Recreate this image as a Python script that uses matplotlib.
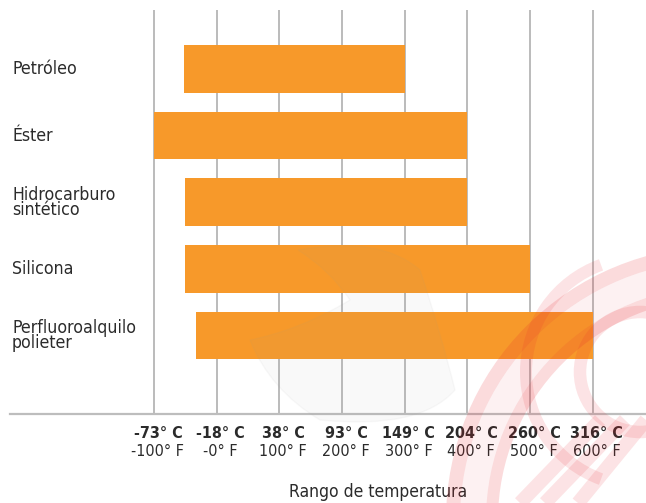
import matplotlib
matplotlib.use("Agg")
import matplotlib.pyplot as plt
from matplotlib.patches import Wedge, Circle, PathPatch
from matplotlib.path import Path
from matplotlib.transforms import blended_transform_factory

# ---- data -------------------------------------------------------------
categories = ["Petróleo", "Éster", "Hidrocarburo\nsintético", "Silicona",
              "Perfluoroalquilo\npolieter"]
range_min_f = [-52, -100, -50, -50, -33]
range_max_f = [300, 400, 400, 500, 600]

ticks_f = [-100, 0, 100, 200, 300, 400, 500, 600]
labels_c = ["-73° C", "-18° C", "38° C", "93° C", "149° C", "204° C", "260° C", "316° C"]
labels_f = ["-100° F", "-0° F", "100° F", "200° F", "300° F", "400° F", "500° F", "600° F"]
x_title = "Rango de temperatura"

# ---- style ------------------------------------------------------------
plt.rcParams["font.family"] = ["DejaVu Sans"]
plt.rcParams["font.stretch"] = "condensed"

BAR = "#f7992a"
TEXT = "#2b2b2b"
GRID = "#a8a8a8"

W, H = 646, 503
fig = plt.figure(figsize=(W / 100, H / 100), dpi=100)

# axes spans x 10..646 px, y 10..414 px
left, right, top, bottom = 10, 646, 10, 414
ax = fig.add_axes([left / W, 1 - bottom / H, (right - left) / W, (bottom - top) / H])

px_per_f = (592.7 - 154) / 700
ax.set_xlim(-100 - (154 - left) / px_per_f, 600 + (right - 592.7) / px_per_f)
ax.set_ylim(5.18, -0.886)

for t in ticks_f:
    ax.axvline(t, color=GRID, lw=1.1, zorder=1)

ypos = list(range(len(categories)))
widths = [b - a for a, b in zip(range_min_f, range_max_f)]
ax.barh(ypos, widths, left=range_min_f, height=0.717, color=BAR, zorder=2)

for s in ["top", "right", "left"]:
    ax.spines[s].set_visible(False)
ax.spines["bottom"].set_color("#bdbdbd")
ax.spines["bottom"].set_linewidth(1.6)
ax.set_xticks([])
ax.set_yticks([])

# category labels, flush left
tr_lab = blended_transform_factory(fig.transFigure, ax.transData)
for y, name in zip(ypos, categories):
    ax.text(12 / W, y, name, transform=tr_lab, ha="left", va="center",
            fontsize=12.7, color=TEXT, linespacing=0.8)

# two-line tick labels: Celsius (bold) over Fahrenheit
tr_tick = blended_transform_factory(ax.transData, fig.transFigure)
for t, c, f in zip(ticks_f, labels_c, labels_f):
    ax.text(t + 4 / px_per_f, 1 - 433 / H, c, transform=tr_tick, ha="center",
            va="center", fontsize=11.5, fontweight="bold", color=TEXT, clip_on=False)
    ax.text(t + 4 / px_per_f, 1 - 451 / H, f, transform=tr_tick, ha="center",
            va="center", fontsize=11.5, color=TEXT, clip_on=False)

fig.text(378 / W, 1 - 492 / H, x_title, ha="center", va="center",
         fontsize=12.5, color=TEXT)

# ---- faint background emblem ------------------------------------------
ov = fig.add_axes([0, 0, 1, 1], zorder=5)
ov.set_xlim(0, W)
ov.set_ylim(H, 0)
ov.axis("off")
ov.patch.set_alpha(0)

red = "#e8202a"
ov.add_patch(Wedge((720, 520), 274, 180, 270, width=14, color=red, alpha=0.16, lw=0))
ov.add_patch(Wedge((720, 520), 260, 180, 270, width=26, color=red, alpha=0.06, lw=0))
ov.add_patch(Wedge((720, 520), 234, 180, 270, width=12, color=red, alpha=0.16, lw=0))
ov.add_patch(Circle((640, 372), 60, fill=False, ec=red, lw=9, alpha=0.12))
ov.add_patch(Wedge((640, 372), 120, 110, 250, width=12, color=red, alpha=0.12, lw=0))
for x0, x1 in [(520, 600), (545, 625), (578, 646)]:
    ov.plot([x0, x1], [503, 420], color=red, lw=10, alpha=0.12, solid_capstyle="butt")

# grey drop shape
verts = [(298, 250), (380, 235), (420, 270), (440, 330), (455, 390),
         (420, 430), (320, 420), (270, 390), (250, 340), (300, 330),
         (350, 300), (330, 270), (298, 250)]
codes = [Path.MOVETO] + [Path.CURVE3] * 12
ov.add_patch(PathPatch(Path(verts, codes), fc="#9a9a9a", ec="#9a9a9a",
                       alpha=0.06, lw=1))

fig.savefig("out.png", dpi=100)
